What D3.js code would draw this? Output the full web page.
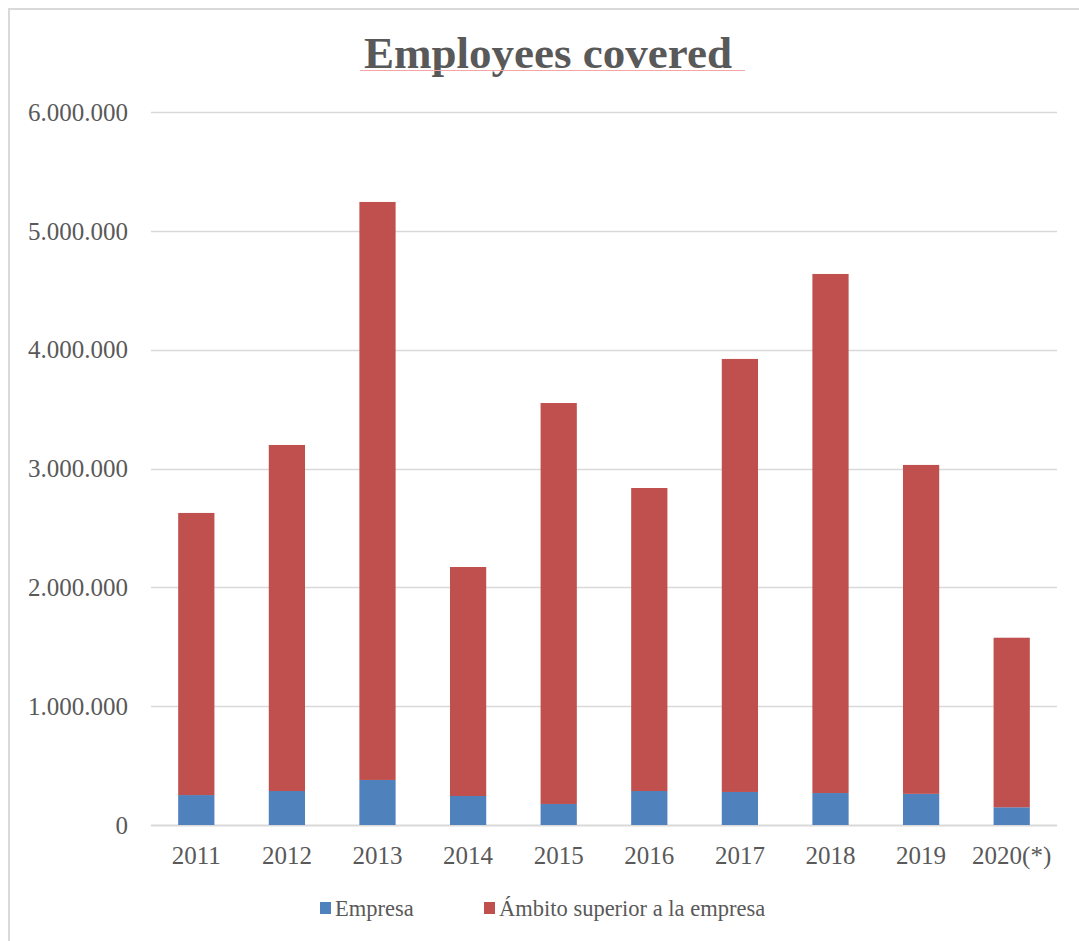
<!DOCTYPE html>
<html>
<head>
<meta charset="utf-8">
<script src="https://cdn.jsdelivr.net/npm/d3@7"></script>
<style>
  body { margin: 0; background: #fff; }
  svg { display: block; }
</style>
</head>
<body>
<svg id="chart" width="1079" height="941"></svg>
<script>
// data
const years = ["2011", "2012", "2013", "2014", "2015", "2016", "2017", "2018", "2019", "2020(*)"];
const empresa = [252000, 286000, 379000, 244000, 177000, 286000, 278000, 269000, 262000, 149000];
const ambito = [2374000, 2912000, 4864000, 1927000, 3374000, 2550000, 3644000, 4368000, 2768000, 1427000];
const seriesNames = ["Empresa", "Ámbito superior a la empresa"];
const colors = ["#4F81BD", "#C0504D"];
const yTicks = [0, 1000000, 2000000, 3000000, 4000000, 5000000, 6000000];

const svg = d3.select("#chart");
const font = "'Liberation Serif', 'DejaVu Serif', serif";
const textColor = "#595959";

// chart border
svg.append("rect")
  .attr("x", 9).attr("y", 9)
  .attr("width", 1100).attr("height", 1000)
  .attr("fill", "none")
  .attr("stroke", "#d9d9d9")
  .attr("stroke-width", 2);

const margin = { left: 151, right: 22, top: 112, bottom: 116 };
const width = 1079, height = 941;

const x = d3.scaleBand()
  .domain(years)
  .range([margin.left, width - margin.right])
  .paddingInner(0.6)
  .paddingOuter(0.3);

const y = d3.scaleLinear()
  .domain([0, 6000000])
  .range([height - margin.bottom, margin.top]);

// gridlines
svg.append("g")
  .selectAll("line")
  .data(yTicks)
  .enter().append("line")
  .attr("x1", margin.left)
  .attr("x2", width - margin.right)
  .attr("y1", d => Math.round(y(d)) + 0.5)
  .attr("y2", d => Math.round(y(d)) + 0.5)
  .attr("stroke", "#d9d9d9")
  .attr("stroke-width", d => d === 0 ? 2 : 1.3);

// y labels
const fmt = d => d3.format(",")(d).replace(/,/g, ".");
svg.append("g")
  .selectAll("text")
  .data(yTicks)
  .enter().append("text")
  .attr("x", 128)
  .attr("y", d => y(d))
  .attr("dy", "0.35em")
  .attr("text-anchor", "end")
  .attr("fill", textColor)
  .style("font-family", font)
  .style("font-size", "25px")
  .text(fmt);

// stacked bars
const rows = years.map((yr, i) => ({ year: yr, Empresa: empresa[i], "Ámbito superior a la empresa": ambito[i] }));
const stacked = d3.stack().keys(seriesNames)(rows);

svg.append("g")
  .selectAll("g")
  .data(stacked)
  .enter().append("g")
  .attr("fill", (d, i) => colors[i])
  .selectAll("rect")
  .data(d => d)
  .enter().append("rect")
  .attr("x", d => x(d.data.year))
  .attr("width", x.bandwidth())
  .attr("y", d => y(d[1]))
  .attr("height", d => y(d[0]) - y(d[1]));

// x labels
svg.append("g")
  .selectAll("text")
  .data(years)
  .enter().append("text")
  .attr("x", d => x(d) + x.bandwidth() / 2)
  .attr("y", 864)
  .attr("text-anchor", "middle")
  .attr("fill", textColor)
  .style("font-family", font)
  .style("font-size", "25px")
  .text(d => d);

// title
svg.append("text")
  .attr("x", 548)
  .attr("y", 68)
  .attr("text-anchor", "middle")
  .attr("fill", textColor)
  .style("font-family", font)
  .style("font-weight", "bold")
  .style("font-size", "45px")
  .text("Employees covered");

svg.append("line")
  .attr("x1", 360).attr("x2", 745)
  .attr("y1", 70.5).attr("y2", 70.5)
  .attr("stroke", "#f4a6a6")
  .attr("stroke-width", 1);

// legend
const legendX = [320, 484];
const legend = svg.append("g")
  .selectAll("g")
  .data(seriesNames)
  .enter().append("g")
  .attr("transform", (d, i) => `translate(${legendX[i]}, 902)`);

legend.append("rect")
  .attr("width", 11).attr("height", 12)
  .attr("fill", (d, i) => colors[i]);

legend.append("text")
  .attr("x", 15)
  .attr("y", 6)
  .attr("dy", "0.35em")
  .attr("fill", textColor)
  .style("font-family", font)
  .style("font-size", "22.5px")
  .text(d => d);
</script>
</body>
</html>
